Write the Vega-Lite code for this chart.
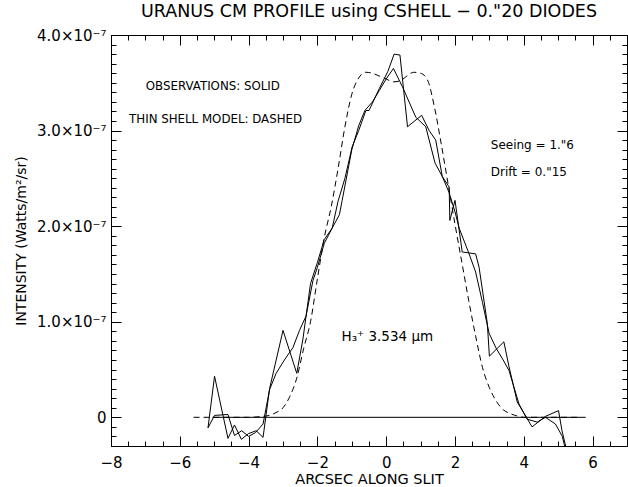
{
  "$schema": "https://vega.github.io/schema/vega-lite/v6.json",
  "width": 516,
  "height": 411,
  "autosize": "none",
  "padding": {"left": 111, "top": 35, "right": 1, "bottom": 41},
  "background": "white",
  "title": {"text": "URANUS CM PROFILE using CSHELL − 0.\"20 DIODES", "fontSize": 17.5, "fontWeight": "normal", "font": "DejaVu Sans", "anchor": "middle", "frame": "group", "offset": 8, "color": "black"},
  "config": {"view": {"stroke": null}, "axis": {"grid": false}},
  "data": {"values": [
    {"kind": "zero", "x": -5.05, "y": 0}, {"kind": "zero", "x": 5.8, "y": 0},
    {"kind": "model", "x": -5.6, "y": 0}, {"kind": "model", "x": -4.0, "y": 0}, {"kind": "model", "x": -3.6, "y": 0.01e-7}, {"kind": "model", "x": -3.4, "y": 0.02e-7}, {"kind": "model", "x": -3.2, "y": 0.05e-7}, {"kind": "model", "x": -3.0, "y": 0.10e-7}, {"kind": "model", "x": -2.8, "y": 0.22e-7}, {"kind": "model", "x": -2.6, "y": 0.41e-7}, {"kind": "model", "x": -2.4, "y": 0.72e-7}, {"kind": "model", "x": -2.2, "y": 1.0e-7}, {"kind": "model", "x": -2.0, "y": 1.45e-7}, {"kind": "model", "x": -1.8, "y": 1.88e-7}, {"kind": "model", "x": -1.6, "y": 2.2e-7}, {"kind": "model", "x": -1.4, "y": 2.6e-7}, {"kind": "model", "x": -1.2, "y": 3.04e-7}, {"kind": "model", "x": -1.0, "y": 3.38e-7}, {"kind": "model", "x": -0.8, "y": 3.55e-7}, {"kind": "model", "x": -0.6, "y": 3.61e-7}, {"kind": "model", "x": -0.4, "y": 3.6e-7}, {"kind": "model", "x": -0.2, "y": 3.57e-7}, {"kind": "model", "x": 0.0, "y": 3.54e-7}, {"kind": "model", "x": 0.2, "y": 3.51e-7}, {"kind": "model", "x": 0.4, "y": 3.52e-7}, {"kind": "model", "x": 0.6, "y": 3.57e-7}, {"kind": "model", "x": 0.8, "y": 3.61e-7}, {"kind": "model", "x": 1.0, "y": 3.6e-7}, {"kind": "model", "x": 1.2, "y": 3.53e-7}, {"kind": "model", "x": 1.4, "y": 3.25e-7}, {"kind": "model", "x": 1.6, "y": 2.86e-7}, {"kind": "model", "x": 1.8, "y": 2.44e-7}, {"kind": "model", "x": 2.0, "y": 2.02e-7}, {"kind": "model", "x": 2.2, "y": 1.62e-7}, {"kind": "model", "x": 2.4, "y": 1.22e-7}, {"kind": "model", "x": 2.6, "y": 0.85e-7}, {"kind": "model", "x": 2.8, "y": 0.52e-7}, {"kind": "model", "x": 3.0, "y": 0.31e-7}, {"kind": "model", "x": 3.2, "y": 0.17e-7}, {"kind": "model", "x": 3.4, "y": 0.08e-7}, {"kind": "model", "x": 3.6, "y": 0.04e-7}, {"kind": "model", "x": 3.8, "y": 0.015e-7}, {"kind": "model", "x": 4.0, "y": 0}, {"kind": "model", "x": 5.6, "y": 0},
    {"kind": "A", "x": -5.18, "y": -0.11e-7}, {"kind": "A", "x": -4.99, "y": 0.43e-7}, {"kind": "A", "x": -4.6, "y": -0.22e-7}, {"kind": "A", "x": -4.41, "y": -0.08e-7}, {"kind": "A", "x": -4.21, "y": -0.23e-7}, {"kind": "A", "x": -4.0, "y": -0.17e-7}, {"kind": "A", "x": -3.78, "y": -0.14e-7}, {"kind": "A", "x": -3.58, "y": -0.21e-7}, {"kind": "A", "x": -3.39, "y": 0.30e-7}, {"kind": "A", "x": -3.0, "y": 0.91e-7}, {"kind": "A", "x": -2.6, "y": 0.46e-7}, {"kind": "A", "x": -2.42, "y": 0.82e-7}, {"kind": "A", "x": -2.2, "y": 1.40e-7}, {"kind": "A", "x": -2.0, "y": 1.62e-7}, {"kind": "A", "x": -1.8, "y": 1.86e-7}, {"kind": "A", "x": -1.57, "y": 1.98e-7}, {"kind": "A", "x": -1.4, "y": 2.26e-7}, {"kind": "A", "x": -1.2, "y": 2.5e-7}, {"kind": "A", "x": -0.99, "y": 2.83e-7}, {"kind": "A", "x": -0.8, "y": 3.0e-7}, {"kind": "A", "x": -0.59, "y": 3.21e-7}, {"kind": "A", "x": -0.5, "y": 3.21e-7}, {"kind": "A", "x": -0.2, "y": 3.44e-7}, {"kind": "A", "x": 0.05, "y": 3.62e-7}, {"kind": "A", "x": 0.23, "y": 3.8e-7}, {"kind": "A", "x": 0.4, "y": 3.79e-7}, {"kind": "A", "x": 0.62, "y": 3.04e-7}, {"kind": "A", "x": 1.03, "y": 3.16e-7}, {"kind": "A", "x": 1.25, "y": 3.0e-7}, {"kind": "A", "x": 1.44, "y": 2.9e-7}, {"kind": "A", "x": 1.63, "y": 2.52e-7}, {"kind": "A", "x": 1.83, "y": 2.41e-7}, {"kind": "A", "x": 1.85, "y": 2.06e-7}, {"kind": "A", "x": 2.0, "y": 2.27e-7}, {"kind": "A", "x": 2.21, "y": 1.73e-7}, {"kind": "A", "x": 2.6, "y": 1.71e-7}, {"kind": "A", "x": 2.7, "y": 1.57e-7}, {"kind": "A", "x": 2.94, "y": 0.98e-7}, {"kind": "A", "x": 3.0, "y": 0.64e-7}, {"kind": "A", "x": 3.42, "y": 0.79e-7}, {"kind": "A", "x": 3.57, "y": 0.53e-7}, {"kind": "A", "x": 3.81, "y": 0.16e-7}, {"kind": "A", "x": 4.24, "y": -0.10e-7}, {"kind": "A", "x": 4.63, "y": 0.01e-7}, {"kind": "A", "x": 5.01, "y": 0.07e-7}, {"kind": "A", "x": 5.11, "y": -0.14e-7}, {"kind": "A", "x": 5.25, "y": -0.35e-7},
    {"kind": "B", "x": -5.18, "y": -0.11e-7}, {"kind": "B", "x": -4.99, "y": 0.02e-7}, {"kind": "B", "x": -4.6, "y": 0.03e-7}, {"kind": "B", "x": -4.41, "y": -0.19e-7}, {"kind": "B", "x": -4.2, "y": -0.14e-7}, {"kind": "B", "x": -4.0, "y": -0.2e-7}, {"kind": "B", "x": -3.8, "y": -0.16e-7}, {"kind": "B", "x": -3.58, "y": -0.07e-7}, {"kind": "B", "x": -3.39, "y": 0.29e-7}, {"kind": "B", "x": -3.2, "y": 0.46e-7}, {"kind": "B", "x": -2.96, "y": 0.6e-7}, {"kind": "B", "x": -2.71, "y": 0.73e-7}, {"kind": "B", "x": -2.52, "y": 0.91e-7}, {"kind": "B", "x": -2.33, "y": 1.06e-7}, {"kind": "B", "x": -2.13, "y": 1.43e-7}, {"kind": "B", "x": -2.0, "y": 1.57e-7}, {"kind": "B", "x": -1.8, "y": 1.82e-7}, {"kind": "B", "x": -1.6, "y": 1.96e-7}, {"kind": "B", "x": -1.36, "y": 2.12e-7}, {"kind": "B", "x": -1.28, "y": 2.27e-7}, {"kind": "B", "x": -1.0, "y": 2.8e-7}, {"kind": "B", "x": -0.8, "y": 3.05e-7}, {"kind": "B", "x": -0.62, "y": 3.21e-7}, {"kind": "B", "x": -0.4, "y": 3.3e-7}, {"kind": "B", "x": -0.2, "y": 3.42e-7}, {"kind": "B", "x": 0.0, "y": 3.54e-7}, {"kind": "B", "x": 0.21, "y": 3.65e-7}, {"kind": "B", "x": 0.47, "y": 3.46e-7}, {"kind": "B", "x": 0.86, "y": 3.14e-7}, {"kind": "B", "x": 1.15, "y": 3.04e-7}, {"kind": "B", "x": 1.42, "y": 2.66e-7}, {"kind": "B", "x": 1.63, "y": 2.52e-7}, {"kind": "B", "x": 1.83, "y": 2.35e-7}, {"kind": "B", "x": 2.0, "y": 2.15e-7}, {"kind": "B", "x": 2.12, "y": 1.98e-7}, {"kind": "B", "x": 2.4, "y": 1.72e-7}, {"kind": "B", "x": 2.6, "y": 1.52e-7}, {"kind": "B", "x": 2.8, "y": 1.2e-7}, {"kind": "B", "x": 2.99, "y": 0.88e-7}, {"kind": "B", "x": 3.2, "y": 0.72e-7}, {"kind": "B", "x": 3.4, "y": 0.6e-7}, {"kind": "B", "x": 3.57, "y": 0.49e-7}, {"kind": "B", "x": 3.86, "y": 0.14e-7}, {"kind": "B", "x": 4.1, "y": -0.02e-7}, {"kind": "B", "x": 4.39, "y": -0.05e-7}, {"kind": "B", "x": 4.63, "y": 0.0}, {"kind": "B", "x": 4.92, "y": -0.07e-7}, {"kind": "B", "x": 5.12, "y": -0.2e-7}, {"kind": "B", "x": 5.22, "y": -0.35e-7},
    {"kind": "notes", "x": -5.04, "y": 3.47e-7, "label": "OBSERVATIONS: SOLID"},
    {"kind": "notes", "x": -4.96, "y": 3.12e-7, "label": "THIN SHELL MODEL: DASHED"},
    {"kind": "params", "x": 3.04, "y": 2.85e-7, "label": "Seeing = 1.\"6"},
    {"kind": "params", "x": 3.04, "y": 2.57e-7, "label": "Drift = 0.\"15"},
    {"kind": "line", "x": -1.3, "y": 0.84e-7, "label": "H₃⁺ 3.534 μm"}
  ]},
  "resolve": {"axis": {"x": "independent", "y": "independent"}},
  "layer": [
    {
      "transform": [{"filter": "datum.kind === 'zero'"}],
      "mark": {"type": "line", "color": "black", "strokeWidth": 1},
      "encoding": {
        "x": {"field": "x", "type": "quantitative", "scale": {"domain": [-8, 7], "nice": false, "zero": false},
          "axis": {"orient": "bottom", "ticks": false, "values": [-8, -6, -4, -2, 0, 2, 4, 6], "labelPadding": 9, "labelFontSize": 15, "labelFont": "DejaVu Sans", "labelColor": "black", "labelFlush": false, "labelOverlap": false, "domainColor": "black", "title": "ARCSEC ALONG SLIT", "titleFont": "DejaVu Sans", "titleFontWeight": "normal", "titleColor": "black", "titleFontSize": 14.5, "titlePadding": 2}},
        "y": {"field": "y", "type": "quantitative", "scale": {"domain": [-3e-8, 4e-7], "nice": false, "zero": false},
          "axis": {"orient": "left", "ticks": false, "values": [0, 1e-7, 2e-7, 3e-7, 4e-7], "labelPadding": 5, "labelFontSize": 15, "labelFont": "DejaVu Sans", "labelColor": "black", "labelFlush": false, "labelOverlap": false, "domainColor": "black", "labelExpr": "datum.value == 0 ? '0' : format(datum.value * 1e7, '.1f') + '×10⁻⁷'", "title": "INTENSITY (Watts/m²/sr)", "titleFont": "DejaVu Sans", "titleFontWeight": "normal", "titleColor": "black", "titleFontSize": 14, "titlePadding": 8}}
      }
    },
    {
      "transform": [{"filter": "datum.kind === 'model'"}],
      "mark": {"type": "line", "color": "black", "strokeWidth": 1, "strokeDash": [6, 4], "interpolate": "monotone"},
      "encoding": {
        "x": {"field": "x", "type": "quantitative", "scale": {"domain": [-8, 7], "nice": false, "zero": false},
          "axis": {"orient": "bottom", "tickCount": 7, "tickSize": -10, "tickColor": "black", "tickWidth": 1, "tickOpacity": 1, "labels": false, "domainColor": "black", "title": null}},
        "y": {"field": "y", "type": "quantitative", "scale": {"domain": [-3e-8, 4e-7], "nice": false, "zero": false},
          "axis": {"orient": "left", "tickCount": 4, "tickSize": -10, "tickColor": "black", "tickWidth": 1, "tickOpacity": 1, "labels": false, "domainColor": "black", "title": null}}
      }
    },
    {
      "transform": [{"filter": "datum.kind === 'A'"}],
      "mark": {"type": "line", "color": "black", "strokeWidth": 1, "clip": true},
      "encoding": {
        "x": {"field": "x", "type": "quantitative", "scale": {"domain": [-8, 7], "nice": false, "zero": false},
          "axis": {"orient": "bottom", "tickCount": 30, "tickSize": -5, "tickColor": "black", "tickWidth": 1, "tickOpacity": 1, "labels": false, "domainColor": "black", "title": null}},
        "y": {"field": "y", "type": "quantitative", "scale": {"domain": [-3e-8, 4e-7], "nice": false, "zero": false},
          "axis": {"orient": "left", "tickCount": 43, "tickSize": -5, "tickColor": "black", "tickWidth": 1, "tickOpacity": 1, "labels": false, "domainColor": "black", "title": null}}
      }
    },
    {
      "transform": [{"filter": "datum.kind === 'B'"}],
      "mark": {"type": "line", "color": "black", "strokeWidth": 1, "clip": true},
      "encoding": {
        "x": {"field": "x", "type": "quantitative", "scale": {"domain": [-8, 7], "nice": false, "zero": false},
          "axis": {"orient": "top", "tickCount": 7, "tickSize": -10, "tickColor": "black", "tickWidth": 1, "tickOpacity": 1, "labels": false, "domainColor": "black", "title": null}},
        "y": {"field": "y", "type": "quantitative", "scale": {"domain": [-3e-8, 4e-7], "nice": false, "zero": false},
          "axis": {"orient": "right", "tickCount": 4, "tickSize": -10, "tickColor": "black", "tickWidth": 1, "tickOpacity": 1, "labels": false, "domainColor": "black", "title": null}}
      }
    },
    {
      "transform": [{"filter": "datum.kind === 'notes'"}],
      "mark": {"type": "text", "font": "DejaVu Sans", "fontSize": 11.8, "align": "center", "baseline": "middle", "color": "black"},
      "encoding": {
        "x": {"field": "x", "type": "quantitative", "scale": {"domain": [-8, 7], "nice": false, "zero": false},
          "axis": {"orient": "top", "tickCount": 30, "tickSize": -5, "tickColor": "black", "tickWidth": 1, "tickOpacity": 1, "labels": false, "domainColor": "black", "title": null}},
        "y": {"field": "y", "type": "quantitative", "scale": {"domain": [-3e-8, 4e-7], "nice": false, "zero": false},
          "axis": {"orient": "right", "tickCount": 43, "tickSize": -5, "tickColor": "black", "tickWidth": 1, "tickOpacity": 1, "labels": false, "domainColor": "black", "title": null}},
        "text": {"field": "label", "type": "nominal"}
      }
    },
    {
      "transform": [{"filter": "datum.kind === 'params'"}],
      "mark": {"type": "text", "font": "DejaVu Sans", "fontSize": 12, "align": "left", "baseline": "middle", "color": "black"},
      "encoding": {
        "x": {"field": "x", "type": "quantitative", "scale": {"domain": [-8, 7], "nice": false, "zero": false}, "axis": null},
        "y": {"field": "y", "type": "quantitative", "scale": {"domain": [-3e-8, 4e-7], "nice": false, "zero": false}, "axis": null},
        "text": {"field": "label", "type": "nominal"}
      }
    },
    {
      "transform": [{"filter": "datum.kind === 'line'"}],
      "mark": {"type": "text", "font": "DejaVu Sans", "fontSize": 13.5, "align": "left", "baseline": "middle", "color": "black"},
      "encoding": {
        "x": {"field": "x", "type": "quantitative", "scale": {"domain": [-8, 7], "nice": false, "zero": false}, "axis": null},
        "y": {"field": "y", "type": "quantitative", "scale": {"domain": [-3e-8, 4e-7], "nice": false, "zero": false}, "axis": null},
        "text": {"field": "label", "type": "nominal"}
      }
    }
  ]
}
